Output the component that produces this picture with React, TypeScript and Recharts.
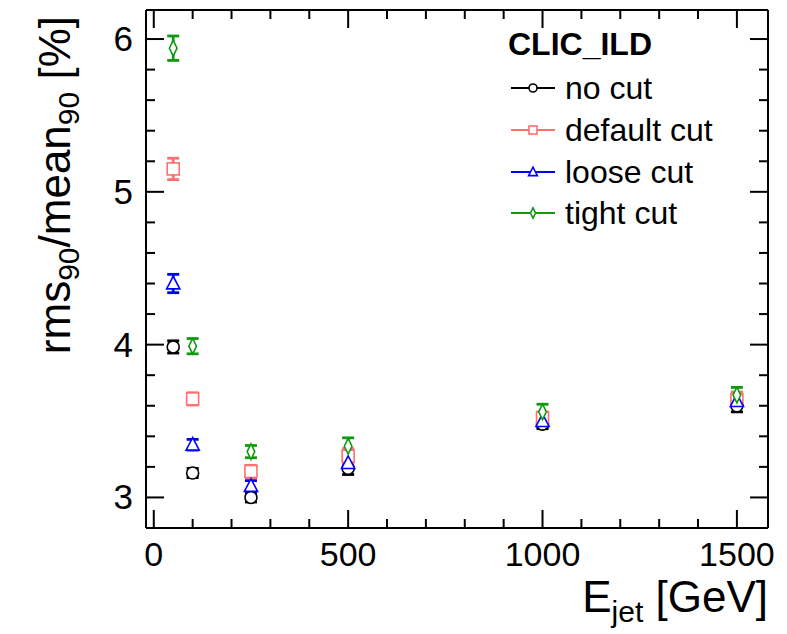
import React from "react"
import { ScatterChart, Scatter, XAxis, YAxis, ErrorBar, ReferenceLine } from "recharts"

// jet energies [GeV]
const energies = [50, 100, 250, 500, 1000, 1500]

// rms90/mean90 [%] per selection
const noCut = [3.985, 3.16, 3.0, 3.19, 3.48, 3.6]
const noCutErr = [0.04, 0.03, 0.03, 0.04, 0.03, 0.04]
const defaultCut = [5.15, 3.645, 3.17, 3.27, 3.52, 3.64]
const defaultCutErr = [0.07, 0.04, 0.04, 0.05, 0.04, 0.05]
const looseCut = [4.4, 3.345, 3.075, 3.225, 3.5, 3.63]
const looseCutErr = [0.06, 0.035, 0.035, 0.04, 0.04, 0.04]
const tightCut = [5.94, 3.99, 3.3, 3.335, 3.56, 3.67]
const tightCutErr = [0.08, 0.05, 0.04, 0.055, 0.05, 0.05]

const xTicks = [0, 100, 200, 300, 400, 500, 600, 700, 800, 900, 1000, 1100, 1200, 1300, 1400, 1500]
const xMajor = [0, 500, 1000, 1500]
const yTicks = [3.0, 3.2, 3.4, 3.6, 3.8, 4.0, 4.2, 4.4, 4.6, 4.8, 5.0, 5.2, 5.4, 5.6, 5.8, 6.0]
const yMajor = [3, 4, 5, 6]
const xDomain = [-20, 1580]
const yDomain = [2.8, 6.19]

const W = 787
const H = 634
const M = { top: 10, right: 19, bottom: 106, left: 146 }
const plotBottom = H - M.bottom
const plotRight = W - M.right
const FONT = "'Liberation Sans', Arial, Helvetica, sans-serif"

type Kind = "circle" | "square" | "triangle" | "diamond"

const series: { name: string; kind: Kind; color: string; vals: number[]; errs: number[] }[] = [
  { name: "no cut", kind: "circle", color: "#000000", vals: noCut, errs: noCutErr },
  { name: "default cut", kind: "square", color: "#ff6f6f", vals: defaultCut, errs: defaultCutErr },
  { name: "loose cut", kind: "triangle", color: "#0000ff", vals: looseCut, errs: looseCutErr },
  { name: "tight cut", kind: "diamond", color: "#109a10", vals: tightCut, errs: tightCutErr },
]

function Marker({ kind, cx, cy, color, s }: { kind: Kind; cx: number; cy: number; color: string; s: number }) {
  const common = { fill: "#fff", stroke: color, strokeWidth: 1.6 }
  if (kind === "circle") return <circle cx={cx} cy={cy} r={s / 2} {...common} />
  if (kind === "square") return <rect x={cx - s / 2} y={cy - s / 2} width={s} height={s} {...common} />
  if (kind === "triangle")
    return (
      <polygon
        points={`${cx},${cy - s * 0.6} ${cx - s * 0.55},${cy + s * 0.45} ${cx + s * 0.55},${cy + s * 0.45}`}
        {...common}
      />
    )
  return (
    <polygon
      points={`${cx},${cy - s * 0.65} ${cx + s * 0.32},${cy} ${cx},${cy + s * 0.65} ${cx - s * 0.32},${cy}`}
      {...common}
    />
  )
}

const XTick = (p: any) => {
  const v = p.payload.value
  const x = p.x
  const major = xMajor.includes(v)
  const len = major ? 18 : 9
  return (
    <g>
      <line x1={x} x2={x} y1={plotBottom} y2={plotBottom - len} stroke="#000" strokeWidth={2} />
      <line x1={x} x2={x} y1={M.top} y2={M.top + len} stroke="#000" strokeWidth={2} />
      {major && (
        <text x={x} y={plotBottom + 38} textAnchor="middle" fontSize={34} fontFamily={FONT} fill="#000">
          {v}
        </text>
      )}
    </g>
  )
}

const YTick = (p: any) => {
  const v = p.payload.value
  const y = p.y
  const major = yMajor.some((m) => Math.abs(m - v) < 1e-6)
  const len = major ? 18 : 9
  return (
    <g>
      <line x1={M.left} x2={M.left + len} y1={y} y2={y} stroke="#000" strokeWidth={2} />
      <line x1={plotRight} x2={plotRight - len} y1={y} y2={y} stroke="#000" strokeWidth={2} />
      {major && (
        <text x={M.left - 13} y={y + 12} textAnchor="end" fontSize={35} fontFamily={FONT} fill="#000">
          {Math.round(v)}
        </text>
      )}
    </g>
  )
}

const legendRows = [88, 130, 172, 213]

export default function App() {
  return (
    <div style={{ position: "absolute", left: 0, top: 0, width: W, height: H, background: "#fff" }}>
      <ScatterChart width={W} height={H} margin={{ top: M.top, right: M.right, left: 0, bottom: 0 }}>
        <XAxis
          type="number"
          dataKey="x"
          domain={xDomain}
          ticks={xTicks}
          interval={0}
          height={M.bottom}
          tickSize={0}
          axisLine={false}
          tick={XTick}
        />
        <YAxis
          type="number"
          dataKey="y"
          domain={yDomain}
          ticks={yTicks}
          interval={0}
          width={M.left}
          tickSize={0}
          axisLine={false}
          tick={YTick}
          allowDataOverflow
        />
        <ReferenceLine x={xDomain[0]} stroke="#000" strokeWidth={2} />
        <ReferenceLine x={xDomain[1]} stroke="#000" strokeWidth={2} />
        <ReferenceLine y={yDomain[0]} stroke="#000" strokeWidth={2} />
        <ReferenceLine y={yDomain[1]} stroke="#000" strokeWidth={2} />
        {series.map((s) => (
          <Scatter
            key={s.name}
            name={s.name}
            data={energies.map((e, i) => ({ x: e, y: s.vals[i], err: s.errs[i] }))}
            isAnimationActive={false}
            shape={(p: any) => <Marker kind={s.kind} cx={p.cx} cy={p.cy} color={s.color} s={12} />}
          >
            <ErrorBar dataKey="err" direction="y" width={6} stroke={s.color} strokeWidth={2.8} />
          </Scatter>
        ))}
      </ScatterChart>
      <svg
        width={W}
        height={H}
        style={{ position: "absolute", left: 0, top: 0, pointerEvents: "none" }}
        fontFamily={FONT}
      >
        <text transform="translate(70,16) rotate(-90)" textAnchor="end" fontSize={44} fill="#000">
          rms
          <tspan fontSize={30} dy={9}>90</tspan>
          <tspan dy={-9}>/mean</tspan>
          <tspan fontSize={30} dy={9}>90</tspan>
          <tspan dy={-9}> [%]</tspan>
        </text>
        <text x={plotRight} y={612} textAnchor="end" fontSize={44} fill="#000">
          E<tspan fontSize={30} dy={10}>jet</tspan>
          <tspan dy={-10}> [GeV]</tspan>
        </text>
        <text x={508} y={55} fontSize={32} fontWeight="bold" fill="#000">
          CLIC_ILD
        </text>
        {series.map((s, i) => (
          <g key={s.name}>
            <line x1={511} x2={555} y1={legendRows[i]} y2={legendRows[i]} stroke={s.color} strokeWidth={2} />
            <Marker kind={s.kind} cx={533} cy={legendRows[i]} color={s.color} s={8} />
            <text x={565} y={legendRows[i] + 11} fontSize={32} fill="#000">
              {s.name}
            </text>
          </g>
        ))}
      </svg>
    </div>
  )
}
